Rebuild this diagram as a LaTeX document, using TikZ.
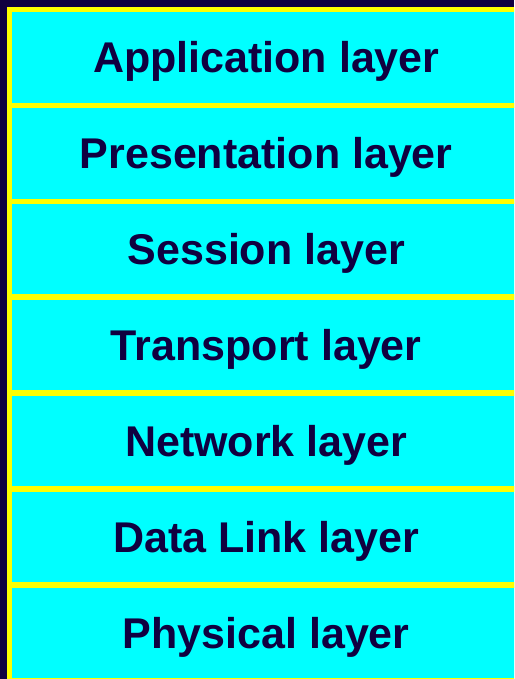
\documentclass[tikz,border=0pt]{standalone}
\usepackage{fontspec}
\setmainfont{Liberation Sans}
\definecolor{navy}{RGB}{16,0,64}
\definecolor{laycyan}{RGB}{0,255,255}
\definecolor{layyellow}{RGB}{255,255,0}
\tikzset{
	layer/.style = {
		draw=layyellow, fill=laycyan, line width=5.5pt,
		minimum width=513.5pt, minimum height=95.9pt,
		text=navy, font=\fontsize{43}{50}\selectfont\bfseries,
		text height=30.8pt, text depth=0pt, inner sep=0pt
	}
}

\begin{document}
\begin{tikzpicture}[x=1pt, y=1pt]
	\useasboundingbox (0, 0) rectangle (514, -679);
	\fill [navy] (0, 0) rectangle (514, -679);
	\clip (0, 0) rectangle (514, -679);
	\foreach [count=\i] \name in {Application layer, Presentation layer, Session layer,
		Transport layer, Network layer, Data Link layer, Physical layer}
	{
		\node [layer] (layer\i) at (266.25, {-57.45 - 95.9*(\i-1)}) {\name};
	}
\end{tikzpicture}
\end{document}
